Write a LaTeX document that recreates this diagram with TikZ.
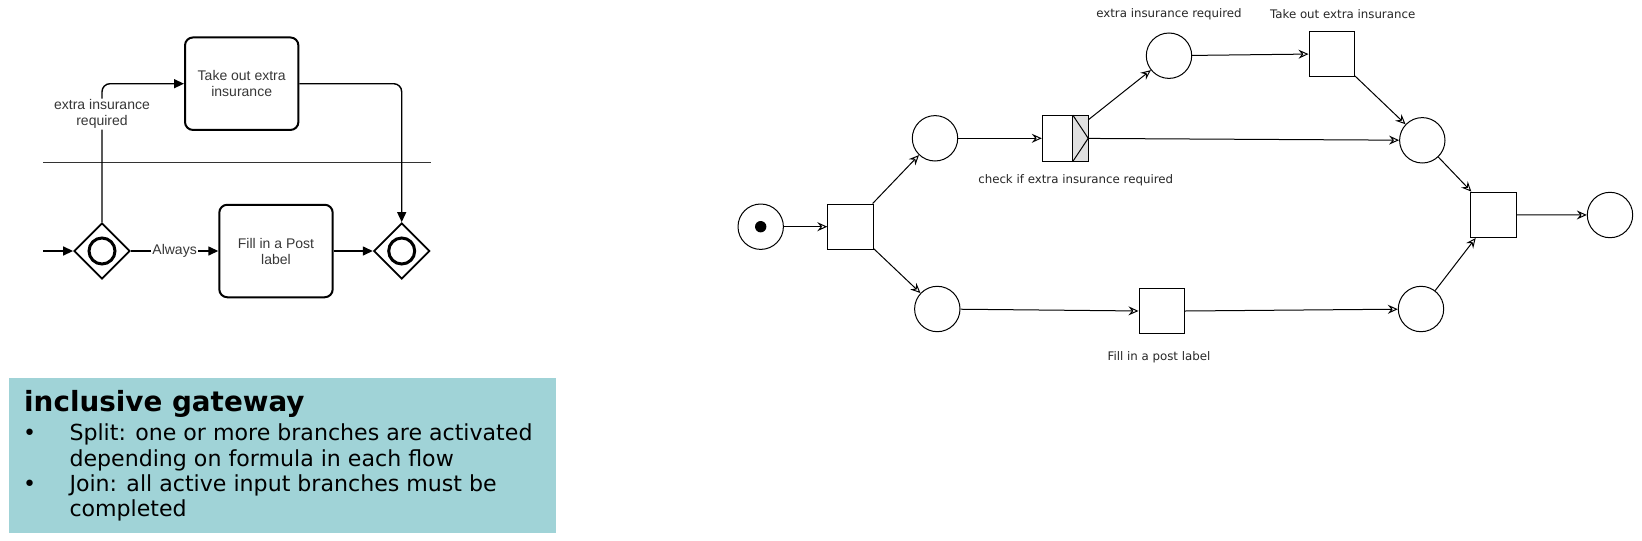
\documentclass[tikz,border=0pt]{standalone}
\usepackage{fontspec}
\setmainfont{DejaVu Sans}
\newfontfamily\arialfont{Liberation Sans}
\usepackage{tikz}
\usetikzlibrary{positioning,arrows.meta,shapes.geometric}
\definecolor{notefill}{RGB}{160,211,215}
\definecolor{textgray}{RGB}{55,55,55}
\tikzset{
  place/.style    = {draw, circle, minimum size=45.4pt, inner sep=0pt, line width=1pt},
  trans/.style    = {draw, rectangle, minimum size=45.4pt, inner sep=0pt, line width=1pt},
  arc/.style      = {-{Stealth[open, length=10pt, width=9pt, inset=3.5pt]}, line width=1pt},
  netlabel/.style = {font=\fontsize{11.8}{14}\selectfont, inner sep=0pt, text=black!85},
  task/.style     = {draw, rounded corners=8pt, line width=2pt, minimum width=113.4pt, minimum height=92.5pt,
                     align=center, font=\arialfont\fontsize{14}{16}\selectfont, text=textgray},
  gate/.style     = {draw, diamond, line width=1.8pt, minimum size=56pt, inner sep=0pt},
  seq/.style      = {-{Triangle[length=10pt, width=9pt]}, line width=1.4pt},
  flowlabel/.style= {fill=white, inner sep=1pt, align=center, font=\arialfont\fontsize{14}{16}\selectfont, text=textgray},
  notetext/.style = {anchor=base west, inner sep=0pt, font=\fontsize{22.1}{25}\selectfont},
}

\begin{document}
\begin{tikzpicture}[x=1pt, y=-1pt]
  \useasboundingbox (0,0) rectangle (1642,541);

  % bpmn fragment
  \node[task] (takeout) at (241.7,83.7) {Take out extra\\insurance};
  \node[task] (fillpost) at (276,251) {Fill in a Post\\label};
  \node[gate] (split) at (102,251) {};
  \node[gate] (join) at (401.7,251) {};
  \foreach \g in {split,join} \draw[line width=3pt] (\g) circle (13pt);
  \coordinate (in) at (43.3,251);
  \coordinate (laneleft) at (43.3,162.7);
  \coordinate (laneright) at (431,162.7);
  \draw[line width=1.5pt, black!80] (laneleft) -- (laneright);
  \draw[seq] (in) -- (split);
  \draw[seq, rounded corners=8pt] (split.north) |- node[flowlabel, pos=0.39] {extra insurance\\required} (takeout.west);
  \draw[seq, rounded corners=8pt] (takeout.east) -| (join.north);
  \draw[seq] (split) -- node[flowlabel] {Always} (fillpost);
  \draw[seq] (fillpost) -- (join);

  % note
  \node[fill=notefill, minimum width=547pt, minimum height=155.4pt, anchor=north west, inner sep=0pt] (note) at (9,377.3) {};
  \node[anchor=base west, inner sep=0pt, font=\bfseries\fontsize{27.8}{30}\selectfont] (notetitle) at (24,411.7) {inclusive gateway};
  \foreach \y/\t [count=\i] in {440.7/Split: one or more branches are activated, 466/depending on formula in each flow,
                               491.3/Join: all active input branches must be, 516.7/completed}
    \node[notetext] (noteline\i) at (69.3,\y) {\t};
  \node[notetext] (bulletone) at (23,440.7) {•};
  \node[notetext] (bullettwo) at (23,491.3) {•};

  % petri net
  \node[place] (start) at (760.7,226.7) {};
  \fill (start) circle (5.7pt);
  \node[trans] (fork) at (850.5,226.7) {};
  \node[place] (p1) at (935,138.3) {};
  \node[place] (p2) at (937.3,309) {};
  \node[trans] (check) at (1065,138.3) {};
  \draw[line width=1pt, fill=black!12] ([xshift=-15.4pt]check.north east) rectangle (check.south east);
  \draw[line width=1pt] ([xshift=-15.4pt]check.north east) -- (check.east) -- ([xshift=-15.4pt]check.south east);
  \node[place] (p3) at (1169,55.7) {};
  \node[trans] (takeins) at (1331.7,53.8) {};
  \node[place] (p4) at (1422.3,140.3) {};
  \node[trans] (post) at (1161.7,311.2) {};
  \node[place] (p5) at (1421,309) {};
  \node[trans] (sync) at (1493.5,214.8) {};
  \node[place] (end) at (1610,215) {};

  \node[netlabel, above=12pt of p3] (p3label) {extra insurance required};
  \node[netlabel, above=11.5pt of takeins, xshift=11pt] (takelabel) {Take out extra insurance};
  \node[netlabel, below=13pt of check, xshift=10.7pt] (checklabel) {check if extra insurance required};
  \node[netlabel, below=17pt of post, xshift=-2.7pt] (postlabel) {Fill in a post label};

  \draw[arc] (start) -- (fork);
  \draw[arc] (fork) -- (p1);
  \draw[arc] (fork) -- (p2);
  \draw[arc] (p1) -- (check);
  \draw[arc] (check) -- (p3);
  \draw[arc] (check) -- (p4);
  \draw[arc] (p2) -- (post);
  \draw[arc] (p3) -- (takeins);
  \draw[arc] (takeins) -- (p4);
  \draw[arc] (post) -- (p5);
  \draw[arc] (p4) -- (sync);
  \draw[arc] (p5) -- (sync);
  \draw[arc] (sync) -- (end);
\end{tikzpicture}
\end{document}
